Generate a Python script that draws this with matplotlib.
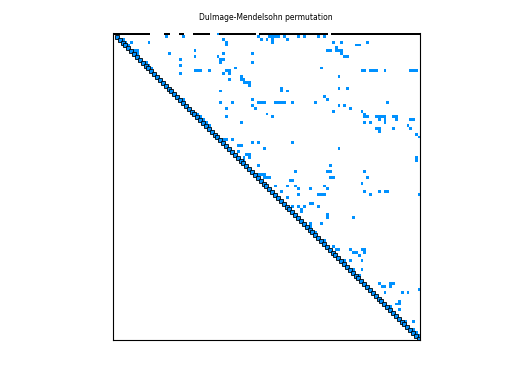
import numpy as np
import matplotlib
matplotlib.use("Agg")
import matplotlib.pyplot as plt
from matplotlib.patches import Rectangle

# size of the permuted matrix
n = 107

# off-diagonal nonzeros (row, col)
nz_rows = [0,
           1, 1, 1, 1, 1, 1, 1, 1, 1, 1, 1, 1,
           2, 2, 2, 2, 2, 2,
           3, 3, 3, 3, 3, 3, 3, 3,
           4, 4, 4, 4, 5,
           6, 6, 6, 6, 6, 6, 6, 6,
           7, 7, 7, 7, 7,
           8, 8, 8, 8,
           9, 9, 9, 10, 10, 10, 11, 11,
           12, 12, 12,
           13, 13, 13, 13, 13, 13, 13, 13, 13, 13, 13, 13, 13, 13, 13,
           14, 14, 14, 15, 15, 16, 16, 16, 17, 17, 17, 18,
           19, 19, 19, 20, 20, 20, 22, 23, 23, 23,
           24, 24, 24, 24, 24, 24, 24, 24, 24, 24, 24, 24,
           25, 25, 25, 26, 26, 26, 27, 27, 28, 28, 28,
           29, 29, 29, 29, 29, 29, 29, 29, 29, 29, 29,
           30, 30, 30, 30, 30, 30,
           31, 31, 31, 31, 31, 32, 32,
           33, 33, 33, 33, 34, 35, 36,
           37, 37, 37, 38, 38, 38, 39, 39, 40, 40, 41, 42, 42,
           43, 43, 43, 44, 44, 46, 46,
           48, 48, 48, 48, 49, 49, 49,
           50, 50, 50, 50, 50, 50, 51, 51, 52,
           53, 53, 53, 53, 54, 54, 54,
           55, 55, 55, 55, 55, 56, 56, 56, 56, 56, 56, 57,
           59, 59, 60, 60, 60, 60, 61, 62, 63, 64, 64,
           66, 66, 67, 69, 72, 74,
           75, 75, 75, 75, 75, 76, 76, 76, 77,
           79, 79, 79, 82, 82, 84,
           87, 87, 87, 88, 88, 88, 89, 90, 90, 90,
           93, 94, 94, 95, 96, 100, 100, 103, 104, 105]
nz_cols = [36,
           18, 24, 50, 54, 55, 56, 57, 59, 64, 66, 71, 73,
           3, 38, 51, 53, 55, 60,
           4, 6, 12, 39, 55, 76, 79, 88,
           5, 39, 84, 85, 77,
           7, 8, 28, 74, 75, 77, 78, 79,
           8, 19, 38, 48, 79,
           28, 36, 80, 81,
           23, 37, 38, 11, 37, 48, 12, 23,
           13, 42, 72,
           28, 29, 30, 33, 39, 40, 86, 87, 89, 90, 91, 94, 103, 104, 105,
           23, 38, 40, 44, 78, 40, 44, 45, 45, 46, 47, 47,
           58, 78, 81, 37, 58, 60, 73, 24, 48, 74,
           37, 41, 50, 51, 52, 56, 57, 58, 59, 62, 70, 95,
           48, 78, 80, 39, 49, 82, 76, 86, 29, 53, 87,
           30, 39, 55, 87, 88, 91, 92, 93, 94, 97, 98,
           31, 92, 94, 98, 103, 104,
           32, 44, 87, 89, 94, 33, 102,
           91, 92, 97, 103, 92, 105, 106,
           38, 39, 41, 48, 50, 62, 43, 44, 52, 78, 43, 46, 47,
           45, 47, 105, 45, 105, 50, 75,
           63, 74, 75, 87, 50, 51, 52,
           52, 53, 54, 75, 76, 88, 61, 62, 86,
           56, 60, 63, 73, 64, 68, 74,
           58, 87, 92, 94, 95, 64, 71, 72, 73, 89, 106, 60,
           68, 69, 62, 64, 66, 71, 65, 65, 74, 74, 83,
           68, 72, 68, 70, 73, 76,
           77, 78, 82, 86, 87, 83, 84, 87, 85,
           80, 82, 86, 83, 86, 85,
           92, 96, 97, 93, 94, 96, 106, 94, 100, 102,
           99, 98, 99, 96, 99, 101, 104, 104, 105, 106]

# column runs of the dense first row
top_runs = [(0, 12), (18, 19), (23, 24), (28, 33), (37, 49), (51, 74), (76, 106)]

blue = (0.0, 0.57, 1.0)

img = np.ones((n, n, 3))
img[nz_rows, nz_cols] = blue

fig = plt.figure(figsize=(5.12, 3.84), dpi=100)
ax = fig.add_axes([112.5 / 512, 43.7 / 384, 307.8 / 512, 307.8 / 384])
ax.imshow(img, interpolation="nearest", aspect="auto",
          extent=(-0.5, n - 0.5, n - 0.5, -0.5))

# first row drawn as a dark band (no top frame line in the original)
for a, b in top_runs:
    ax.add_patch(Rectangle((a - 0.5, -0.5), b - a + 1, 0.85, color="k", lw=0))

diag = np.arange(1, n)
ax.plot(diag, diag, "s", ms=2.2, mfc=blue, mec="k", mew=0.6, ls="none")

ax.set_xlim(-0.5, n - 0.5)
ax.set_ylim(n - 0.5, -0.5)
ax.set_xticks([])
ax.set_yticks([])
for s in ax.spines.values():
    s.set_linewidth(0.8)
ax.spines["top"].set_visible(False)

fig.text(0.52, 1 - 18 / 384, "Dulmage-Mendelsohn permutation",
         ha="center", va="center", fontsize=5.5)

fig.savefig("out.png", dpi=100)
